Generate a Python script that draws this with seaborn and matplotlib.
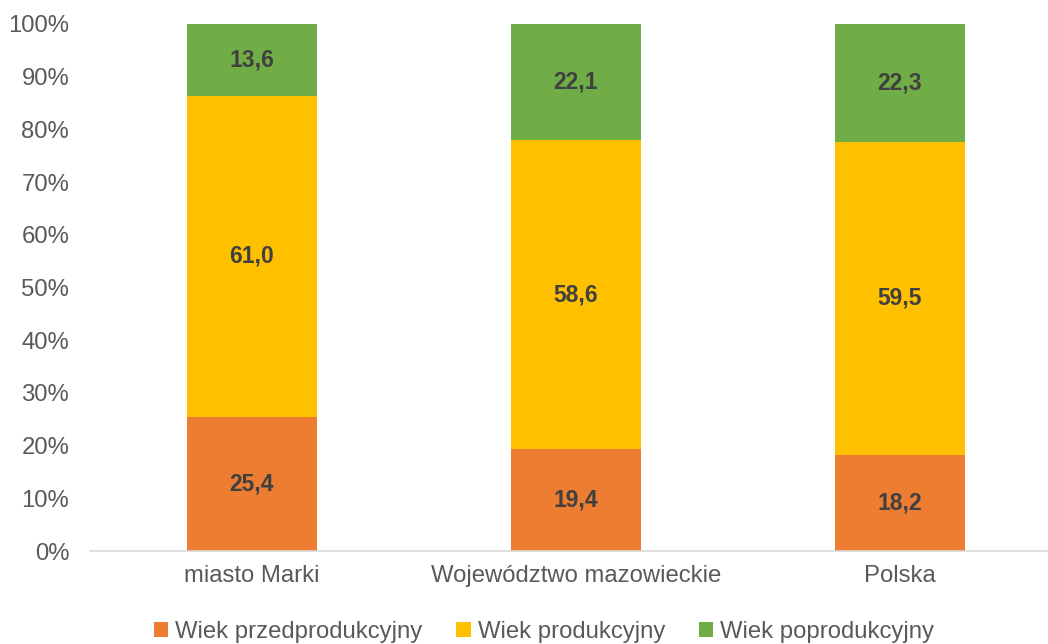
import numpy as np
import pandas as pd
import matplotlib
matplotlib.use("Agg")
import matplotlib.pyplot as plt
import seaborn as sns
from matplotlib.patches import Patch

categories = ["miasto Marki", "Województwo mazowieckie", "Polska"]
series_names = ["Wiek przedprodukcyjny", "Wiek produkcyjny", "Wiek poprodukcyjny"]
przed = [25.4, 19.4, 18.2]
prod = [61.0, 58.6, 59.5]
poprod = [13.6, 22.1, 22.3]
colors = ["#ED7D31", "#FFC000", "#70AD47"]
yticks = [0, 10, 20, 30, 40, 50, 60, 70, 80, 90, 100]

sns.set_theme(style="white")
plt.rcParams['font.family'] = ['Liberation Sans', 'DejaVu Sans']

vals = np.array([przed, prod, poprod])
totals = vals.sum(axis=0)
pct = vals / totals * 100
cum = np.cumsum(pct, axis=0)

fig = plt.figure(figsize=(10.48, 6.44), dpi=100)
ax = fig.add_axes([90/1048, (644-551)/644, 972/1048, 527/644])

# draw from top layer down so lower layers overlay
for i in [2, 1, 0]:
    df = pd.DataFrame({"cat": categories, "val": cum[i]})
    sns.barplot(data=df, x="cat", y="val", color=colors[i], width=0.4,
                saturation=1, ax=ax, linewidth=0, order=categories)

for i in range(3):
    for j in range(3):
        y = cum[i, j] - pct[i, j] / 2
        ax.text(j, y, f"{vals[i, j]:.1f}".replace(".", ","), ha="center", va="center",
                fontsize=16.5, fontweight="bold", color="#404040")

ax.set_ylim(0, 100)
ax.set_xlim(-0.5, 2.5)
ax.set_yticks(yticks)
ax.set_yticklabels([f"{t}%" for t in yticks])
ax.set_xlabel("")
ax.set_ylabel("")
ax.tick_params(axis="both", labelsize=17.2, colors="#595959", length=0)
ax.tick_params(axis="y", pad=15)
ax.tick_params(axis="x", pad=10)
for s in ["top", "right", "left"]:
    ax.spines[s].set_visible(False)
ax.spines["bottom"].set_color("#D9D9D9")
ax.spines["bottom"].set_linewidth(1.2)

handles = [Patch(facecolor=c, edgecolor="none") for c in colors]
leg = fig.legend(handles, series_names, loc="center", bbox_to_anchor=(544/1048, 1 - 632/644),
                 ncol=3, frameon=False, fontsize=17.2, handlelength=0.6, handleheight=0.6,
                 handletextpad=0.3, columnspacing=1.4)
for t in leg.get_texts():
    t.set_color("#595959")

fig.savefig("out.png", dpi=100)
